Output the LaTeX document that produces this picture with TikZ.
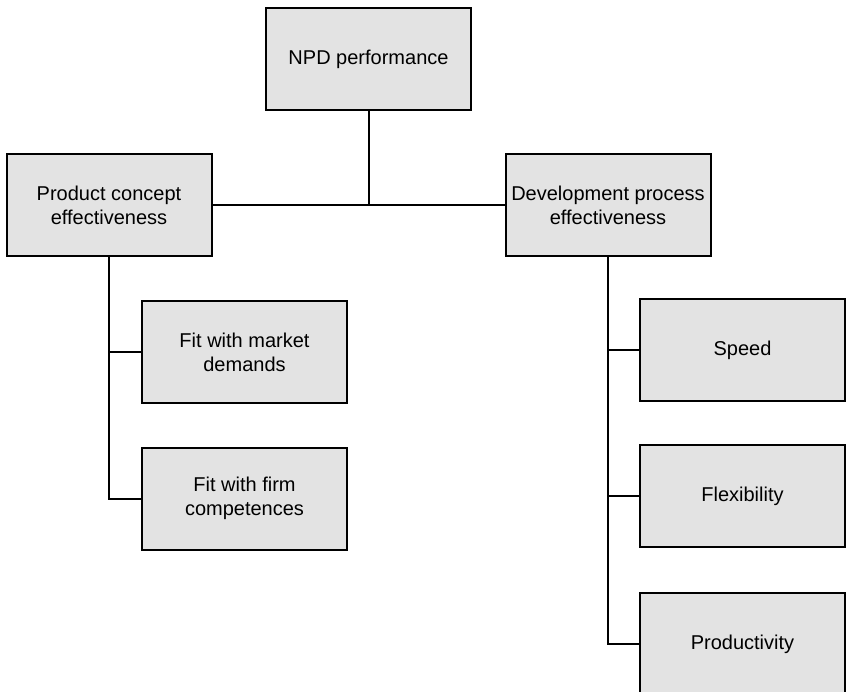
\documentclass[tikz,border=0pt]{standalone}
\usepackage{fontspec}
\setmainfont{Liberation Sans}
\definecolor{boxfill}{HTML}{E3E3E3}
\begin{document}
\begin{tikzpicture}[x=1pt,y=-1pt,
  box/.style={draw=black,fill=boxfill,line width=2pt,minimum width=205pt,minimum height=102pt,
    align=center,inner sep=2pt,font=\fontsize{20}{24}\selectfont},
  link/.style={draw=black,line width=2pt}]
\useasboundingbox (0,0) rectangle (846,692);
\node[box] (npd) at (368.5,59) {NPD performance};
\node[box] (pce) at (109,205.5) {Product concept\\effectiveness};
\node[box] (dpe) at (608,205.5) {Development process\\effectiveness};
\node[box] (fmd) at (244.5,352.5) {Fit with market\\demands};
\node[box] (ffc) at (244.5,498.5) {Fit with firm\\competences};
\node[box] (spd) at (742.5,350) {Speed};
\node[box] (flx) at (742.5,496) {Flexibility};
\node[box] (prd) at (742.5,644) {Productivity};
\draw[link] (pce.east) -- (dpe.west);
\draw[link] (npd.south) -- (npd.south |- pce.east);
\draw[link] (pce.south) -- (pce.south |- ffc.west) -- (ffc.west);
\draw[link] (pce.south |- fmd.west) -- (fmd.west);
\draw[link] (dpe.south) -- (dpe.south |- prd.west) -- (prd.west);
\draw[link] (dpe.south |- spd.west) -- (spd.west);
\draw[link] (dpe.south |- flx.west) -- (flx.west);
\end{tikzpicture}
\end{document}
